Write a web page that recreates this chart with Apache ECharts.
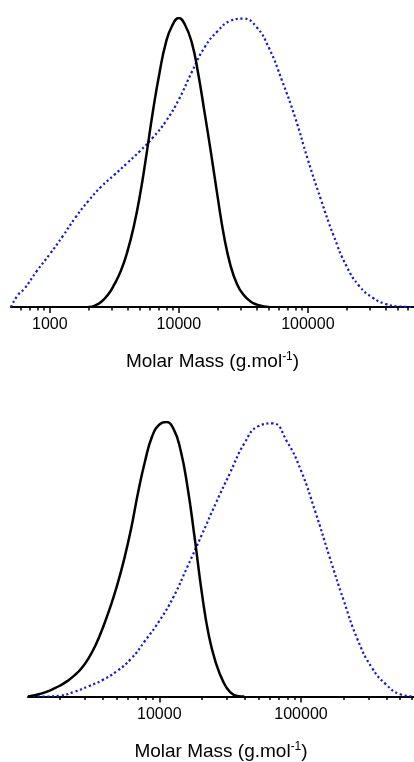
<!DOCTYPE html>
<html>
<head>
<meta charset="utf-8">
<script src="https://cdn.jsdelivr.net/npm/echarts@6/dist/echarts.min.js"></script>
<style>
html,body{margin:0;padding:0;background:#fff;}
#chart{width:414px;height:762px;}
</style>
</head>
<body>
<div id="chart"></div>
<script>
// ---- Data (molar mass in g/mol, normalized height 0..1) ----
// Top panel
const topBlackMass   = [2000, 2240, 2510, 2820, 3160, 3550, 3980, 4470, 5010, 5620, 6310, 7080, 7940, 8910, 10000, 11200, 12600, 14100, 15800, 17800, 20000, 22400, 25100, 28200, 31600, 35500, 39800, 44700, 50100];
const topBlackHeight = [0, 0.005, 0.018, 0.042, 0.078, 0.125, 0.19, 0.278, 0.39, 0.53, 0.68, 0.81, 0.915, 0.975, 1.0, 0.975, 0.915, 0.81, 0.675, 0.53, 0.38, 0.245, 0.145, 0.08, 0.043, 0.021, 0.009, 0.003, 0];
const topBlueMass    = [500, 562, 631, 794, 1000, 1260, 1580, 2000, 2510, 3160, 3980, 5010, 6310, 7940, 10000, 12600, 15800, 20000, 25100, 31600, 39800, 50100, 63100, 79400, 100000, 126000, 158000, 200000, 251000, 316000, 398000, 501000, 631000];
const topBlueHeight  = [0, 0.04, 0.062, 0.125, 0.183, 0.245, 0.31, 0.368, 0.417, 0.457, 0.498, 0.54, 0.587, 0.643, 0.718, 0.813, 0.898, 0.955, 0.99, 0.998, 0.97, 0.895, 0.783, 0.658, 0.51, 0.373, 0.248, 0.14, 0.072, 0.033, 0.011, 0.002, 0];
// Bottom panel
const botBlackMass   = [1185, 1260, 1410, 1580, 1780, 2000, 2240, 2510, 2820, 3160, 3550, 3980, 4470, 5010, 5620, 6310, 7080, 7940, 8910, 10000, 11200, 12600, 14100, 15800, 17800, 20000, 22400, 25100, 28200, 31600, 35500, 39800];
const botBlackHeight = [0, 0.003, 0.008, 0.016, 0.027, 0.04, 0.056, 0.076, 0.102, 0.138, 0.187, 0.248, 0.32, 0.40, 0.495, 0.608, 0.742, 0.858, 0.948, 0.99, 1.0, 0.975, 0.90, 0.765, 0.575, 0.375, 0.22, 0.122, 0.055, 0.016, 0.002, 0];
const botBlueMass    = [1185, 1580, 2000, 2510, 3160, 3980, 5010, 6310, 7940, 10000, 12600, 15800, 20000, 25100, 31600, 39800, 50100, 63100, 79400, 100000, 126000, 158000, 200000, 251000, 316000, 398000, 501000, 620000];
const botBlueHeight  = [0, 0, 0.003, 0.017, 0.037, 0.06, 0.092, 0.137, 0.203, 0.275, 0.363, 0.473, 0.59, 0.705, 0.815, 0.922, 0.985, 0.995, 0.93, 0.823, 0.674, 0.513, 0.35, 0.207, 0.105, 0.044, 0.008, 0];

// Axis ranges and ticks
const topRange = [500, 665000];
const botRange = [1185, 627000];
const topMajorTicks = [1000, 10000, 100000];
const botMajorTicks = [10000, 100000];
const topMinorTicks = [600, 700, 800, 900, 2000, 3000, 4000, 5000, 6000, 7000, 8000, 9000, 20000, 30000, 40000, 50000, 60000, 70000, 80000, 90000, 200000, 300000, 400000, 500000, 600000];
const botMinorTicks = [2000, 3000, 4000, 5000, 6000, 7000, 8000, 9000, 20000, 30000, 40000, 50000, 60000, 70000, 80000, 90000, 200000, 300000, 400000, 500000, 600000];
const axisTitle = '{a|Molar Mass (g.mol}{s|-1}{a|)}';

const lg = v => Math.log10(v);
const pts = (m, h) => m.map((v, i) => [lg(v), h[i]]);
const FONT = '"Liberation Sans", Arial, sans-serif';

function mainAxis(grid, range, majors) {
  return {
    type: 'value', gridIndex: grid, position: 'bottom',
    min: lg(range[0]), max: lg(range[1]),
    splitLine: {show: false},
    axisLine: {show: true, onZero: false, lineStyle: {color: '#000', width: 2}},
    axisTick: {show: true, inside: false, length: 6, lineStyle: {color: '#000', width: 1.5}, customValues: majors.map(lg)},
    axisLabel: {show: true, margin: 10, color: '#000', fontSize: 16, fontFamily: FONT,
      customValues: majors.map(lg), formatter: v => String(Math.round(Math.pow(10, v)))},
    name: axisTitle, nameLocation: 'middle', nameGap: 44,
    nameTextStyle: {color: '#000', fontFamily: FONT, verticalAlign: 'top',
      rich: {a: {fontSize: 19, fontFamily: FONT, color: '#000', lineHeight: 22},
             s: {fontSize: 12, fontFamily: FONT, color: '#000', lineHeight: 22, verticalAlign: 'top'}}}
  };
}
function minorAxis(grid, range, minors) {
  return {
    type: 'value', gridIndex: grid, position: 'bottom',
    min: lg(range[0]), max: lg(range[1]),
    splitLine: {show: false},
    axisLine: {show: false, onZero: false},
    axisTick: {show: true, inside: false, length: 3.5, lineStyle: {color: '#000', width: 1.5}, customValues: minors.map(lg)},
    axisLabel: {show: false}
  };
}
function yAxis(grid) {
  return {type: 'value', gridIndex: grid, min: 0, max: 1, show: false, splitLine: {show: false}};
}
const blueStyle = {color: '#1414e6', width: 2.2, type: [2.2, 2.6], cap: 'butt'};
const blackStyle = {color: '#000', width: 2.5};

const chart = echarts.init(document.getElementById('chart'), null, {renderer: 'canvas'});
chart.setOption({
  backgroundColor: '#fff',
  animation: false,
  grid: [
    {left: 11, right: 0, top: 18, bottom: 762 - 307},
    {left: 28, right: 0, top: 422, bottom: 762 - 701}
  ],
  xAxis: [
    mainAxis(0, topRange, topMajorTicks),
    minorAxis(0, topRange, topMinorTicks),
    mainAxis(1, botRange, botMajorTicks),
    minorAxis(1, botRange, botMinorTicks)
  ],
  yAxis: [yAxis(0), yAxis(1)],
  series: [
    {type: 'line', xAxisIndex: 0, yAxisIndex: 0, data: pts(topBlueMass, topBlueHeight), smooth: 0.5, symbol: 'none', lineStyle: blueStyle, z: 2},
    {type: 'line', xAxisIndex: 0, yAxisIndex: 0, data: pts(topBlackMass, topBlackHeight), smooth: 0.5, symbol: 'none', lineStyle: blackStyle, z: 3},
    {type: 'line', xAxisIndex: 2, yAxisIndex: 1, data: pts(botBlueMass, botBlueHeight), smooth: 0.5, symbol: 'none', lineStyle: blueStyle, z: 2},
    {type: 'line', xAxisIndex: 2, yAxisIndex: 1, data: pts(botBlackMass, botBlackHeight), smooth: 0.5, symbol: 'none', lineStyle: blackStyle, z: 3}
  ]
});
</script>
</body>
</html>
